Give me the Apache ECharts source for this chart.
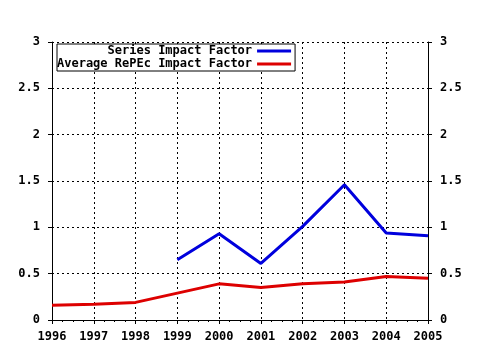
<!DOCTYPE html>
<html><head><meta charset="utf-8">
<script src="https://cdn.jsdelivr.net/npm/echarts@6/dist/echarts.min.js"></script>
<style>html,body{margin:0;padding:0;background:#fff}#c{width:480px;height:350px}</style>
</head><body><div id="c"></div>
<script>
const years = [1996,1997,1998,1999,2000,2001,2002,2003,2004,2005];
const seriesImpact = [null,null,null,0.65,0.93,0.61,1.01,1.46,0.94,0.91];
const avgImpact = [0.16,0.17,0.19,0.29,0.39,0.35,0.39,0.41,0.47,0.45];
const yTicks = ['0','0.5','1','1.5','2','2.5','3'];
const names = ['Series Impact Factor','Average RePEc Impact Factor'];

const font = {fontFamily:'DejaVu Sans Mono', fontWeight:'bold', fontSize:12, color:'#000'};
const pad = s => ' '.repeat(27 - s.length) + s;
const chart = echarts.init(document.getElementById('c'));
const yLab = v => { const i = Math.round(v*2); return yTicks[i] !== undefined ? yTicks[i] : ''; };
const axisCommon = {
  axisLine:{show:true,lineStyle:{color:'#000',width:1}},
  axisTick:{show:true,lineStyle:{color:'#000'},length:4},
};
chart.setOption({
  animation:false,
  backgroundColor:'#fff',
  grid:{left:52,right:52,top:42,bottom:30},
  legend:{
    orient:'vertical', left:57, top:44, align:'right',
    data:names, formatter: n => pad(n),
    itemWidth:34, itemHeight:3, icon:'rect', itemGap:1,
    padding:[1,4,1,0],
    borderColor:'#000', borderWidth:1, backgroundColor:'#fff',
    textStyle:Object.assign({}, font, {fontSize:12, lineHeight:12}),
    selectedMode:false
  },
  xAxis:[{
    type:'value', min:1996, max:2005, interval:1, position:'bottom',
    ...axisCommon,
    minorTick:{show:true,splitNumber:4,length:2,lineStyle:{color:'#000'}},
    axisLabel:Object.assign({}, font, {margin:11, formatter: v => String(v)}),
    splitLine:{show:true,lineStyle:{color:'#000',type:[2,3],width:1}}
  },{
    type:'value', min:1996, max:2005, interval:1, position:'top',
    axisLine:{show:true,lineStyle:{color:'#000'}},
    axisTick:{show:true,inside:true,length:3,lineStyle:{color:'#000'}},
    axisLabel:{show:false}, splitLine:{show:false}
  }],
  yAxis:[{
    type:'value', min:0, max:3, interval:0.5, position:'left',
    ...axisCommon,
    axisLabel:Object.assign({}, font, {margin:12, formatter: yLab}),
    splitLine:{show:true,lineStyle:{color:'#000',type:[2,3],width:1}}
  },{
    type:'value', min:0, max:3, interval:0.5, position:'right',
    ...axisCommon,
    axisLabel:Object.assign({}, font, {margin:12, formatter: yLab}),
    splitLine:{show:false}
  }],
  series:[{
    name:names[0], type:'line', xAxisIndex:0, yAxisIndex:0,
    data: years.map((y,i)=>[y, seriesImpact[i]]),
    showSymbol:false, symbol:'none', connectNulls:false,
    lineStyle:{color:'#0000dd',width:3}, itemStyle:{color:'#0000dd'}
  },{
    name:names[1], type:'line', xAxisIndex:0, yAxisIndex:0,
    data: years.map((y,i)=>[y, avgImpact[i]]),
    showSymbol:false, symbol:'none',
    lineStyle:{color:'#dd0000',width:3}, itemStyle:{color:'#dd0000'}
  }]
});
</script></body></html>
